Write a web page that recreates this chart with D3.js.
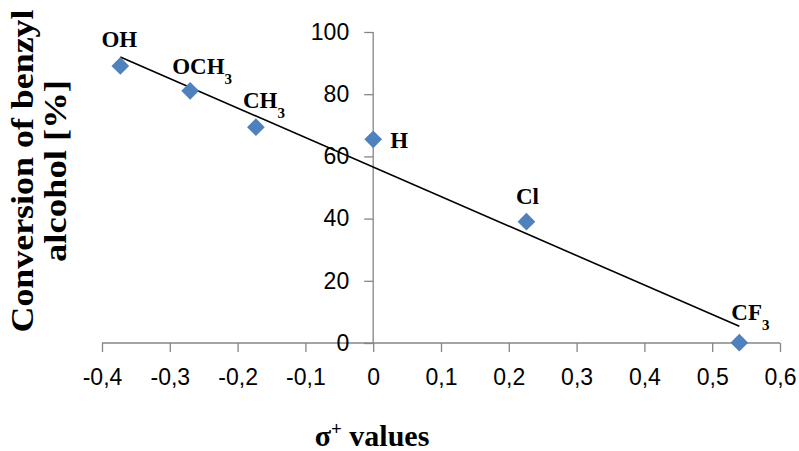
<!DOCTYPE html>
<html><head><meta charset="utf-8">
<script src="https://cdn.jsdelivr.net/npm/d3@7"></script>
<style>body{margin:0;background:#fff}</style>
</head><body>
<svg id="c" width="799" height="451"></svg>
<script>
const substituents = ["OH","OCH3","CH3","H","Cl","CF3"];
const sigmaValues = [-0.373,-0.27,-0.173,0,0.226,0.54];
const conversion = [89.1,81.1,69.4,65.5,39.0,0.1];
const xTicks = [-0.4,-0.3,-0.2,-0.1,0,0.1,0.2,0.3,0.4,0.5,0.6];
const yTicks = [0,20,40,60,80,100];

const svg = d3.select("#c");
const x = d3.scaleLinear().domain([-0.4,0.6]).range([102,780]);
const y = d3.scaleLinear().domain([0,100]).range([343,32]);
const axisColor = "#868686";
const tickFont = "'Liberation Sans',Arial,sans-serif";
const fmt = d => d===0 ? "0" : d.toFixed(1).replace(".",",");

// x axis
const xa = svg.append("g").attr("transform",`translate(0,${y(0)})`)
  .call(d3.axisBottom(x).tickValues(xTicks).tickSize(9).tickPadding(17).tickFormat(fmt));
// y axis
const ya = svg.append("g").attr("transform",`translate(${x(0)},0)`)
  .call(d3.axisLeft(y).tickValues(yTicks).tickSize(9).tickPadding(15));
[xa,ya].forEach(a=>{
  a.select(".domain").attr("stroke",axisColor).attr("stroke-width",1.3);
  a.selectAll(".tick line").attr("stroke",axisColor).attr("stroke-width",1.3);
  a.selectAll("text").attr("fill","#000").style("font-family",tickFont).style("font-size","23px");
});
xa.select(".domain").attr("d",`M${x(-0.4)},0H${x(0.6)}`);
ya.select(".domain").attr("d",`M0,${y(0)}V${y(100)}`);

// trend line (least squares fit of the data)
const n = sigmaValues.length;
const mx = d3.mean(sigmaValues), my = d3.mean(conversion);
let sxy=0,sxx=0;
for(let i=0;i<n;i++){sxy+=(sigmaValues[i]-mx)*(conversion[i]-my);sxx+=(sigmaValues[i]-mx)**2;}
const slope=sxy/sxx, icpt=my-slope*mx;
const x0=d3.min(sigmaValues), x1=d3.max(sigmaValues);
svg.append("line").attr("x1",x(x0)).attr("y1",y(icpt+slope*x0))
  .attr("x2",x(x1)).attr("y2",y(icpt+slope*x1)).attr("stroke","#000").attr("stroke-width",1.6);

// markers
svg.append("g").selectAll("path").data(sigmaValues).join("path")
  .attr("d",d3.symbol().type(d3.symbolDiamond2).size(200))
  .attr("transform",(d,i)=>`translate(${x(d)},${y(conversion[i])})`)
  .attr("fill","#4F81BD");

// labels
const labelOffsets = [[-1,-19,"middle"],[-18,-17,"start"],[-13,-19,"start"],[17,9,"start"],[1,-18,"middle"],[-8,-23,"start"]];
const lg = svg.append("g").style("font-family","'Liberation Serif','Times New Roman',serif")
  .style("font-weight","bold").style("font-size","23px");
substituents.forEach((s,i)=>{
  const [dx,dy,anc]=labelOffsets[i];
  const t = lg.append("text").attr("x",x(sigmaValues[i])+dx).attr("y",y(conversion[i])+dy).attr("text-anchor",anc);
  const m = s.match(/^(.*?)(\d)$/);
  if(m){ t.append("tspan").text(m[1]); t.append("tspan").attr("dy",10).style("font-size","15px").text(m[2]); }
  else t.text(s);
});

// axis titles
const tf = "'Liberation Serif','Times New Roman',serif";
const yt = svg.append("text").attr("transform","translate(0,171) rotate(-90)")
  .attr("text-anchor","middle").style("font-family",tf).style("font-weight","bold").style("font-size","32px");
yt.append("tspan").attr("x",0).attr("y",33).attr("textLength",323).attr("lengthAdjust","spacingAndGlyphs").text("Conversion of benzyl");
yt.append("tspan").attr("x",0).attr("y",66).attr("textLength",182).attr("lengthAdjust","spacingAndGlyphs").text("alcohol [%]");
const xt = svg.append("text").attr("x",372).attr("y",446).attr("text-anchor","middle")
  .style("font-family",tf).style("font-weight","bold").style("font-size","30px");
xt.append("tspan").text("σ");
xt.append("tspan").attr("dy",-11).style("font-size","19px").text("+");
xt.append("tspan").attr("dy",11).text(" values");
</script>
</body></html>
